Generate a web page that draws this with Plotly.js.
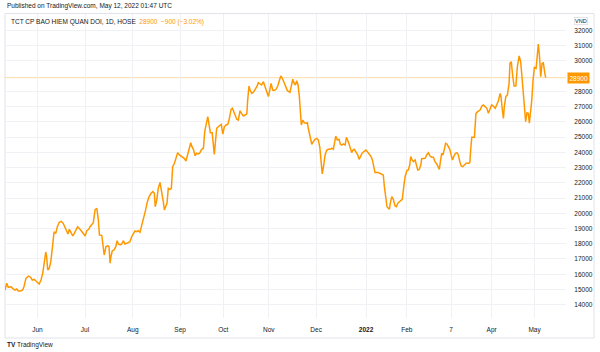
<!DOCTYPE html>
<html>
<head>
<meta charset="utf-8">
<script src="https://cdn.plot.ly/plotly-3.0.1.min.js"></script>
<style>html,body{margin:0;padding:0;background:#fff;}#chart{width:600px;height:352px;}</style>
</head>
<body>
<div id="chart"></div>
<script>
// Trading-session number (0 = first session shown, mid-May 2021) and closing price (VND)
const session = [0,0.8,1.5,2.8,3.5,4.6,5.4,6.1,7.2,8.1,8.7,9.6,10.7,11.8,12.5,13.4,14.2,15.0,15.7,16.5,17.3,18.0,18.7,19.1,19.6,20.3,21.0,21.7,22.5,23.3,24.0,24.9,25.8,26.7,27.5,28.3,28.9,29.5,30.3,31.1,31.8,32.6,33.3,34.4,35.3,36.2,36.8,37.5,38.4,39.0,39.9,40.5,41.3,42.1,42.8,43.3,44.4,45.1,45.5,46.3,47.1,47.7,48.2,48.6,49.2,50.0,50.8,51.4,52.0,52.8,53.5,54.3,55.0,55.8,56.6,57.3,58.1,58.9,59.6,60.4,61.1,61.9,62.7,63.2,63.9,64.5,65.3,66.1,67.0,67.8,68.5,68.9,69.6,70.3,71.1,71.9,72.6,73.1,73.7,74.3,74.9,75.7,76.3,76.9,77.7,78.4,79.2,80.0,80.7,81.5,82.2,83.0,83.8,84.5,85.2,85.6,86.4,87.2,87.9,88.7,89.4,90.2,91.0,91.6,92.3,93.0,93.6,94.2,95.0,95.5,96.0,96.6,97.1,97.8,98.6,99.2,99.9,100.6,101.4,102.2,102.9,103.7,104.3,104.9,105.5,106.3,107.0,107.8,108.6,109.3,110.1,110.9,111.3,111.9,112.4,113.2,113.9,114.7,115.5,116.2,117.0,117.7,118.5,119.3,120.0,120.8,121.6,122.0,122.8,123.5,124.3,125.1,125.8,126.5,127.2,128.0,128.8,129.5,130.7,131.5,132.0,132.6,133.2,133.8,134.4,135.0,135.5,135.9,136.6,137.3,138.1,138.7,139.1,139.9,140.7,141.4,142.2,143.0,143.7,144.4,144.9,145.5,146.2,146.8,147.6,148.3,149.1,149.9,150.6,151.1,151.7,152.4,153.2,153.8,154.4,155.2,156.0,156.6,157.2,157.8,158.4,159.0,159.6,160.2,160.9,161.8,162.4,163.0,163.8,164.5,165.5,166.2,167.0,167.9,168.5,169.1,169.7,171.2,172.8,173.5,174.0,174.6,175.2,175.8,176.3,176.7,177.4,178.1,178.9,179.5,180.1,180.9,181.6,182.2,182.9,183.5,184.3,185.0,185.6,186.1,186.7,187.3,188.1,188.8,189.3,190.0,190.7,191.1,191.9,192.7,193.4,194.2,194.9,195.7,196.5,197.2,198.0,198.8,199.2,199.9,200.3,200.9,201.5,202.1,202.7,203.3,204.0,204.6,205.2,205.8,206.6,207.3,207.9,208.6,209.2,209.9,210.7,211.5,212.5,213.2,213.6,214.1,215.3,215.6,216.0,216.8,217.1,217.9,218.7,219.4,220.2,221.0,221.7,222.5,223.2,224.0,224.8,225.5,226.3,227.1,227.5,228.1,228.6,229.0,229.7,230.4,231.2,231.6,232.2,232.9,233.5,234.3,235.0,235.8,236.5,237.1,237.7,238.4,238.8,239.4,240.0,240.5,241.0,241.6,242.2,242.8,243.6,244.2,244.6,245.1,245.7,246.3,246.9,247.6,248.0];
const price = [14965,15405,15140,15180,15075,14965,15030,14900,14900,14965,15180,15730,15880,15800,15620,15660,15555,15445,15360,15620,16060,16760,17460,17150,16280,16390,16820,17700,18790,18680,19120,19410,19470,19340,19120,18900,18640,18950,18750,18510,18680,18900,19120,18950,18790,18640,18510,18860,18950,19120,19300,19380,20220,20330,19600,18575,18540,17810,17260,17810,17870,17810,16720,17150,17545,17590,17810,18200,17985,17920,17985,18200,17985,18030,18070,18140,18460,18680,18840,18790,18860,18750,19165,19560,19780,20220,20760,21090,21310,21420,21310,20430,20870,21640,22030,21420,20760,20220,20430,20650,21640,21570,21640,23060,23280,23610,23980,23830,23760,23680,23610,23430,23900,24370,24630,24420,24200,23780,23940,23900,23980,24200,24270,25360,26010,26340,25800,25290,25290,24700,23870,24810,25580,25680,25800,25840,25200,25680,25800,25840,26230,26820,26890,26670,26450,26170,26120,26730,26520,26390,26450,26520,27430,28350,28090,27870,27940,28090,28310,28570,28480,28420,28640,28310,27910,27660,28200,28530,28090,28060,28140,28350,28700,29010,28860,28530,28270,28050,27940,28420,28800,28530,28420,28700,28420,27660,26670,25800,26120,25940,25910,25940,25580,24990,24530,24700,24860,24920,24810,24330,23500,22580,23170,23830,24150,24200,24200,24270,24200,24630,25070,24810,24860,24550,24480,24550,24480,24990,24810,24550,24270,23980,24150,24200,24040,23830,23540,23760,23940,24040,24150,24040,23900,23720,23500,23060,22670,22670,22580,22510,21750,20990,20430,20330,20270,20650,21090,20920,20480,20430,20650,20760,20820,20920,21750,22400,22800,22850,23170,23720,23500,23390,23500,23170,22840,22880,23170,23580,23610,23610,23830,23980,23760,23680,23680,23390,23240,23060,22880,23610,23940,23830,24200,24590,24550,24370,24200,23830,23500,23720,23940,23980,23830,23390,23100,23060,23170,23280,23280,23320,24200,24990,24990,25910,26560,26670,26710,26780,27040,27110,27000,26890,26560,26890,27110,27040,26890,27110,27390,27870,27650,26780,26230,26990,27660,27760,28530,29840,29950,28960,28350,28350,29630,30330,29950,28960,27770,26780,26010,26600,26560,25910,26450,27430,28750,29580,29520,30280,31110,30390,28960,29840,29880,29180,28900];

const monthTickSessions = [14.9,36.7,58.6,80.3,100.1,121.0,142.7,165.6,184.3,204.6,223.2,242.9];
const monthTickLabels = ['Jun','Jul','Aug','Sep','Oct','Nov','Dec','<b>2022</b>','Feb','7','Apr','May'];
const priceTicks = [14000,15000,16000,17000,18000,19000,20000,21000,22000,23000,24000,25000,26000,27000,28000,30000,31000,32000];
const lastPrice = 28900;
const headerName = 'TCT CP BAO HIEM QUAN DOI, 1D, HOSE';
const headerChange = '28900  \u2212900 (\u22123.02%)';
const publishedText = 'Published on TradingView.com, May 12, 2022 01:47 UTC';

const ORANGE = '#ff9800';
const TXT = '#131722';
const FONT = 'Liberation Sans, Arial, sans-serif';

// plot area in pixels: left 5, right 566, top 14, bottom 318
const L = 5, R = 566, T = 14, B = 318;
const W = R - L, H = B - T;
const px = x => (x - L) / W;
const py = y => (B - y) / H;

const trace = {
  x: session, y: price, type: 'scatter', mode: 'lines',
  line: {color: ORANGE, width: 1.5}, hoverinfo: 'skip'
};

const layout = {
  width: 600, height: 352,
  margin: {l: L, r: 600 - R, t: T, b: 352 - B, pad: 0},
  paper_bgcolor: '#ffffff', plot_bgcolor: '#ffffff',
  showlegend: false,
  font: {family: FONT, size: 6.5, color: TXT},
  xaxis: {
    range: [0, 257.3], tickvals: monthTickSessions, ticktext: monthTickLabels,
    showgrid: true, gridcolor: '#f0f1f4', gridwidth: 1,
    zeroline: false, showline: false,
    ticks: 'outside', ticklen: 5, tickcolor: 'rgba(0,0,0,0)',
    tickfont: {family: FONT, size: 6.5, color: TXT}, fixedrange: true
  },
  yaxis: {
    range: [13127, 33081], side: 'right', tickvals: priceTicks,
    ticktext: priceTicks.map(String),
    showgrid: true, gridcolor: '#f0f1f4', gridwidth: 1,
    zeroline: false, showline: false,
    ticks: 'outside', ticklen: 6, tickcolor: 'rgba(0,0,0,0)',
    tickfont: {family: FONT, size: 6.5, color: TXT}, fixedrange: true
  },
  shapes: [
    {type: 'rect', xref: 'paper', yref: 'paper', x0: px(5), x1: px(594), y0: py(338), y1: py(13.5),
     line: {color: '#e0e3eb', width: 1}, fillcolor: 'rgba(0,0,0,0)', layer: 'below'},
    {type: 'line', xref: 'paper', yref: 'y', x0: 0, x1: 1, y0: lastPrice, y1: lastPrice,
     line: {color: 'rgba(255,152,0,0.35)', width: 1}, layer: 'below'}
  ],
  annotations: [
    {xref: 'paper', yref: 'paper', x: px(5), y: py(6), xanchor: 'left', yanchor: 'middle',
     text: publishedText, showarrow: false, font: {family: FONT, size: 6.5, color: TXT}},
    {xref: 'paper', yref: 'paper', x: px(9), y: py(22), xanchor: 'left', yanchor: 'middle',
     text: headerName + '  <span style="color:' + ORANGE + '">' + headerChange + '</span>',
     showarrow: false, font: {family: FONT, size: 6.5, color: TXT}},
    {xref: 'paper', yref: 'y', x: px(567), y: lastPrice, xanchor: 'left', yanchor: 'middle',
     text: String(lastPrice), showarrow: false, bgcolor: ORANGE, borderpad: 1.5,
     font: {family: FONT, size: 6.5, color: '#ffffff'}},
    {xref: 'paper', yref: 'paper', x: px(581), y: py(21), xanchor: 'center', yanchor: 'middle',
     text: 'VND', showarrow: false, bgcolor: '#ffffff', bordercolor: '#d1d4dc', borderwidth: 0.6, borderpad: 0.5,
     font: {family: FONT, size: 5.5, color: TXT}},
    {xref: 'paper', yref: 'paper', x: px(5), y: py(344.5), xanchor: 'left', yanchor: 'middle',
     text: '<b>TV</b> TradingView', showarrow: false, font: {family: FONT, size: 6.5, color: TXT}}
  ]
};

Plotly.newPlot('chart', [trace], layout, {staticPlot: true, displayModeBar: false});
</script>
</body>
</html>
